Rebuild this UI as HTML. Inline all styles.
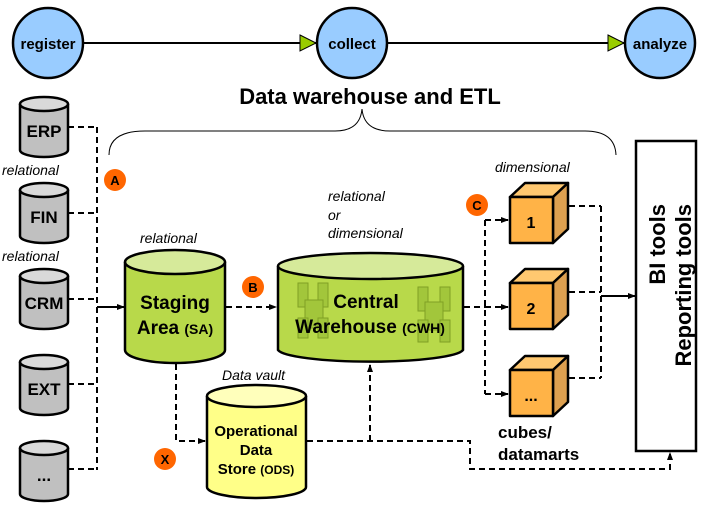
<!DOCTYPE html>
<html><head><meta charset="utf-8"><style>
html,body{margin:0;padding:0;background:#fff}
svg{display:block}
text{font-family:"Liberation Sans",Arial,sans-serif}
.b{font-weight:bold}
.i{font-style:italic}
</style></head><body>
<svg width="702" height="508" viewBox="0 0 702 508" xmlns="http://www.w3.org/2000/svg">
<defs>
<marker id="ah" markerWidth="8" markerHeight="8" refX="7" refY="4" orient="auto" markerUnits="userSpaceOnUse"><path d="M0,1 L8,4 L0,7 Z" fill="#000"/></marker>
</defs>
<line x1="83" y1="43" x2="316" y2="43" stroke="#000" stroke-width="2"/>
<line x1="388" y1="43" x2="624" y2="43" stroke="#000" stroke-width="2"/>
<path d="M300,35 L316,43 L300,51 Z" fill="#99cc00" stroke="#000" stroke-width="1"/>
<path d="M608,35 L624,43 L608,51 Z" fill="#99cc00" stroke="#000" stroke-width="1"/>
<circle cx="48" cy="43" r="35" fill="#99ccff" stroke="#000" stroke-width="2.5"/>
<circle cx="352" cy="43" r="35" fill="#99ccff" stroke="#000" stroke-width="2.5"/>
<circle cx="660" cy="43" r="35" fill="#99ccff" stroke="#000" stroke-width="2.5"/>
<text x="48" y="49" class="b" font-size="15" text-anchor="middle">register</text>
<text x="352" y="49" class="b" font-size="15" text-anchor="middle">collect</text>
<text x="660" y="49" class="b" font-size="15" text-anchor="middle">analyze</text>
<text x="370" y="104" class="b" font-size="22" text-anchor="middle">Data warehouse and ETL</text>
<path d="M109,155 Q109,131 145,131 L335,131 Q360,131 362,109 Q364,131 390,131 L585,131 Q615,131 616,155" fill="none" stroke="#000" stroke-width="1"/>
<g stroke="#000" stroke-width="2.5" fill="#c0c0c0">
<g id="cyl"><path d="M20,104 L20,150 A24,7 0 0 0 68,150 L68,104"/><ellipse cx="44" cy="104" rx="24" ry="7" fill="#d9d9d9"/></g>
<use href="#cyl" y="86"/><use href="#cyl" y="172"/><use href="#cyl" y="258"/><use href="#cyl" y="344"/>
</g>
<g class="b" font-size="17" text-anchor="middle">
<text x="44" y="137">ERP</text><text x="44" y="223">FIN</text><text x="44" y="309">CRM</text><text x="44" y="395">EXT</text><text x="44" y="481">...</text>
</g>
<text x="2" y="175" class="i" font-size="14">relational</text>
<text x="2" y="261" class="i" font-size="14">relational</text>
<g stroke="#000" stroke-width="2" stroke-dasharray="6,4" fill="none">
<path d="M68,127 H97 M68,213 H97 M68,299 H97 M68,384 H97 M68,469 H97 M97,127 V470"/>
</g>
<line x1="97" y1="307" x2="124" y2="307" stroke="#000" stroke-width="2" marker-end="url(#ah)"/>
<path d="M125,262 L125,350 A50,13 0 0 0 225,350 L225,262" fill="#b8d94a" stroke="#000" stroke-width="2.5"/>
<ellipse cx="175" cy="262" rx="50" ry="12" fill="#d6ea9a" stroke="#000" stroke-width="2.5"/>
<text x="175" y="309" class="b" font-size="19" text-anchor="middle">Staging</text>
<text x="175" y="334" class="b" font-size="19" text-anchor="middle">Area <tspan font-size="14">(SA)</tspan></text>
<text x="140" y="243" class="i" font-size="14">relational</text>
<path d="M278,266 L278,350 A93,13 0 0 0 463,350 L463,266" fill="#b8d94a" stroke="#000" stroke-width="2.5"/>
<ellipse cx="370.5" cy="266" rx="92.5" ry="13" fill="#d6ea9a" stroke="#000" stroke-width="2.5"/>
<g fill="#a0c43a" stroke="#7a9a20" stroke-width="1" opacity="0.9">
<rect x="298" y="283" width="10" height="24"/><rect x="318" y="283" width="10" height="24"/><rect x="305" y="300" width="18" height="28"/><rect x="298" y="318" width="10" height="20"/><rect x="318" y="318" width="10" height="20"/>
<rect x="418" y="287" width="10" height="24"/><rect x="440" y="287" width="10" height="24"/><rect x="425" y="302" width="18" height="28"/><rect x="418" y="320" width="10" height="22"/><rect x="440" y="320" width="10" height="22"/>
</g>
<text x="366" y="308" class="b" font-size="19" text-anchor="middle">Central</text>
<text x="370" y="333" class="b" font-size="19" text-anchor="middle">Warehouse <tspan font-size="14">(CWH)</tspan></text>
<text x="328" y="201" class="i" font-size="14">relational</text>
<text x="328" y="220" class="i" font-size="14">or</text>
<text x="328" y="238" class="i" font-size="14">dimensional</text>
<line x1="226" y1="307" x2="276" y2="307" stroke="#000" stroke-width="2" stroke-dasharray="6,4" marker-end="url(#ah)"/>
<g stroke="#000" stroke-width="2" stroke-dasharray="6,4" fill="none">
<path d="M464,307 H485 M485,220 V394"/>
</g>
<line x1="485" y1="220" x2="508" y2="220" stroke="#000" stroke-width="2" stroke-dasharray="6,4" marker-end="url(#ah)"/>
<line x1="485" y1="307" x2="508" y2="307" stroke="#000" stroke-width="2" stroke-dasharray="6,4" marker-end="url(#ah)"/>
<line x1="485" y1="394" x2="508" y2="394" stroke="#000" stroke-width="2" stroke-dasharray="6,4" marker-end="url(#ah)"/>
<g stroke="#000" stroke-width="2.5" stroke-linejoin="round">
<g id="cube">
<path d="M510,197 L525,183 L568,183 L553,197 Z" fill="#ffc870"/>
<path d="M553,197 L568,183 L568,229 L553,243 Z" fill="#dda050"/>
<rect x="510" y="197" width="43" height="46" fill="#ffb347"/>
</g>
<use href="#cube" y="86"/><use href="#cube" y="173"/>
</g>
<text x="531" y="228" class="b" font-size="16" text-anchor="middle">1</text>
<text x="531" y="314" class="b" font-size="16" text-anchor="middle">2</text>
<text x="531" y="401" class="b" font-size="16" text-anchor="middle">...</text>
<text x="495" y="172" class="i" font-size="14">dimensional</text>
<text x="498" y="438" class="b" font-size="17">cubes/</text>
<text x="498" y="460" class="b" font-size="17">datamarts</text>
<g stroke="#000" stroke-width="2" stroke-dasharray="6,4" fill="none">
<path d="M569,206 H601 M569,292 H601 M569,378 H601 M601,206 V378"/>
</g>
<line x1="601" y1="296" x2="635" y2="296" stroke="#000" stroke-width="2" marker-end="url(#ah)"/>
<rect x="636" y="141" width="60" height="310" fill="#fff" stroke="#000" stroke-width="2.5"/>
<text transform="translate(665,204) rotate(-90)" class="b" font-size="22" text-anchor="end">BI tools</text>
<text transform="translate(691,204) rotate(-90)" class="b" font-size="22" text-anchor="end">Reporting tools</text>
<path d="M207,396 L207,487 A49.5,11 0 0 0 306,487 L306,396" fill="#ffff88" stroke="#000" stroke-width="2.5"/>
<ellipse cx="256.5" cy="396" rx="49.5" ry="11" fill="#ffffbb" stroke="#000" stroke-width="2.5"/>
<text x="256" y="436" class="b" font-size="15" text-anchor="middle">Operational</text>
<text x="256" y="455" class="b" font-size="15" text-anchor="middle">Data</text>
<text x="256" y="474" class="b" font-size="15" text-anchor="middle">Store <tspan font-size="12">(ODS)</tspan></text>
<text x="222" y="380" class="i" font-size="14">Data vault</text>
<path d="M176,364 V441 H205" fill="none" stroke="#000" stroke-width="2" stroke-dasharray="6,4" marker-end="url(#ah)"/>
<path d="M307,441 H470 V469 H670 V453" fill="none" stroke="#000" stroke-width="2" stroke-dasharray="6,4" marker-end="url(#ah)"/>
<path d="M370,441 V365" fill="none" stroke="#000" stroke-width="2" stroke-dasharray="6,4" marker-end="url(#ah)"/>
<g fill="#ff6600">
<circle cx="115" cy="180" r="11"/><circle cx="253" cy="287" r="11"/><circle cx="477" cy="205" r="11"/><circle cx="165" cy="459" r="11"/>
</g>
<g class="b" font-size="13" text-anchor="middle">
<text x="115" y="185">A</text><text x="253" y="292">B</text><text x="477" y="210">C</text><text x="165" y="464">X</text>
</g>
</svg>
</body></html>
